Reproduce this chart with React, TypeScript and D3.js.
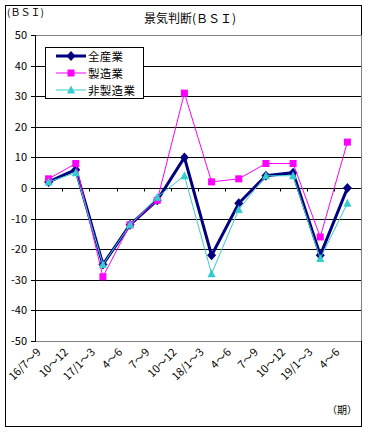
import React, { useRef, useEffect } from 'react';
import * as d3 from 'd3';

const periods = ['16/7～9', '10～12', '17/1～3', '4～6', '7～9', '10～12', '18/1～3', '4～6', '7～9', '10～12', '19/1～3', '4～6'];
const allIndustry = [2, 6, -25, -12, -4, 10, -22, -5, 4, 5, -22, 0];
const manufacturing = [3, 8, -29, -12, -4, 31, 2, 3, 8, 8, -16, 15];
const nonManufacturing = [2, 5, -25, -12, -3, 4, -28, -7, 4, 4, -23, -5];
const yTicks = [50, 40, 30, 20, 10, 0, -10, -20, -30, -40, -50];

const seriesNames = ['全産業', '製造業', '非製造業'];
const seriesColors = ['#000080', '#ff00ff', '#33cccc'];

const FONT = '"Noto Sans CJK JP", sans-serif';

const App: React.FC = () => {
  const svgRef = useRef<SVGSVGElement>(null);

  useEffect(() => {
    const svg = d3.select(svgRef.current);
    svg.selectAll('*').remove();

    const plot = { left: 35, right: 361, top: 35, bottom: 341 };

    const x = d3.scaleBand<string>()
      .domain(periods.map((_, i) => String(i)))
      .range([plot.left, plot.right]);
    const y = d3.scaleLinear().domain([-50, 50]).range([plot.bottom, plot.top]);

    // 外枠
    svg.append('rect')
      .attr('x', 5.5).attr('y', 5.5).attr('width', 356).attr('height', 421)
      .attr('fill', 'white').attr('stroke', 'black');

    // 目盛線
    yTicks.forEach(t => {
      const edge = t === 50 || t === -50;
      svg.append('line')
        .attr('x1', plot.left).attr('x2', plot.right)
        .attr('y1', Math.round(y(t)) + 0.5).attr('y2', Math.round(y(t)) + 0.5)
        .attr('stroke', edge ? '#808080' : 'black');
      svg.append('line')
        .attr('x1', plot.left - 4).attr('x2', plot.left)
        .attr('y1', Math.round(y(t)) + 0.5).attr('y2', Math.round(y(t)) + 0.5)
        .attr('stroke', 'black');
      svg.append('text')
        .attr('x', 27).attr('y', y(t) + 4)
        .attr('text-anchor', 'end')
        .attr('font-size', 11).attr('font-family', FONT)
        .text(t);
    });
    // 右枠
    svg.append('line')
      .attr('x1', plot.right + 0.5).attr('x2', plot.right + 0.5)
      .attr('y1', plot.top).attr('y2', plot.bottom)
      .attr('stroke', '#808080');
    // 縦軸
    svg.append('line')
      .attr('x1', plot.left + 0.5).attr('x2', plot.left + 0.5)
      .attr('y1', plot.top).attr('y2', plot.bottom + 1)
      .attr('stroke', 'black');

    // 横軸の目盛
    const y0 = Math.round(y(0)) + 0.5;
    periods.forEach((_, i) => {
      if (i === 0) return;
      const bx = Math.round(x(String(i))!) + 0.5;
      svg.append('line')
        .attr('x1', bx).attr('x2', bx).attr('y1', y0).attr('y2', y0 + 3)
        .attr('stroke', 'black');
    });

    // 横軸ラベル
    periods.forEach((p, i) => {
      const cx = x(String(i))! + x.bandwidth() / 2 - 7;
      svg.append('text')
        .attr('transform', `translate(${cx},${353}) rotate(-45)`)
        .attr('text-anchor', 'end')
        .attr('font-size', 11).attr('font-family', FONT)
        .text(p);
    });

    const data = [allIndustry, manufacturing, nonManufacturing];
    const widths = [3, 1, 1];
    const line = d3.line<number>()
      .x((_, i) => x(String(i))! + x.bandwidth() / 2)
      .y(d => y(d));

    const marker = (g: d3.Selection<SVGGElement, unknown, null, undefined>, k: number, cx: number, cy: number) => {
      if (k === 0) {
        g.append('path')
          .attr('d', `M${cx},${cy - 5}L${cx + 4.5},${cy}L${cx},${cy + 5}L${cx - 4.5},${cy}Z`)
          .attr('fill', seriesColors[k]);
      } else if (k === 1) {
        g.append('rect')
          .attr('x', cx - 3.5).attr('y', cy - 3.5).attr('width', 7).attr('height', 7)
          .attr('fill', seriesColors[k]);
      } else {
        g.append('path')
          .attr('d', `M${cx},${cy - 4.5}L${cx + 4},${cy + 3.5}L${cx - 4},${cy + 3.5}Z`)
          .attr('fill', seriesColors[k]);
      }
    };

    data.forEach((vals, k) => {
      svg.append('path')
        .attr('d', line(vals) || '')
        .attr('fill', 'none')
        .attr('stroke', seriesColors[k])
        .attr('stroke-width', widths[k]);
      const g = svg.append('g');
      vals.forEach((v, i) => {
        marker(g, k, x(String(i))! + x.bandwidth() / 2, y(v));
      });
    });

    // 凡例
    svg.append('rect')
      .attr('x', 45.5).attr('y', 47.5).attr('width', 98).attr('height', 51)
      .attr('fill', 'white').attr('stroke', 'black');
    seriesNames.forEach((name, k) => {
      const ly = 56 + k * 17;
      svg.append('line')
        .attr('x1', 56).attr('x2', 86).attr('y1', ly).attr('y2', ly)
        .attr('stroke', seriesColors[k]).attr('stroke-width', widths[k]);
      const g = svg.append('g');
      marker(g, k, 71, ly);
      svg.append('text')
        .attr('x', 88).attr('y', ly + 4.5)
        .attr('font-size', 11.5).attr('letter-spacing', 0.3).attr('font-family', FONT)
        .text(name);
    });

    // タイトル等
    svg.append('text')
      .attr('x', 190).attr('y', 23)
      .attr('text-anchor', 'middle')
      .attr('font-size', 12).attr('font-family', FONT)
      .text('景気判断(ＢＳＩ)');
    svg.append('text')
      .attr('x', 7).attr('y', 16)
      .attr('font-size', 10).attr('font-family', FONT)
      .text('(ＢＳＩ)');
    svg.append('text')
      .attr('x', 357).attr('y', 414)
      .attr('text-anchor', 'end')
      .attr('font-size', 10).attr('font-family', FONT)
      .text('（期）');
  }, []);

  return (
    <div style={{ position: 'absolute', left: 0, top: 0 }}>
      <svg ref={svgRef} width={368} height={432} style={{ display: 'block' }} />
    </div>
  );
};

export default App;
